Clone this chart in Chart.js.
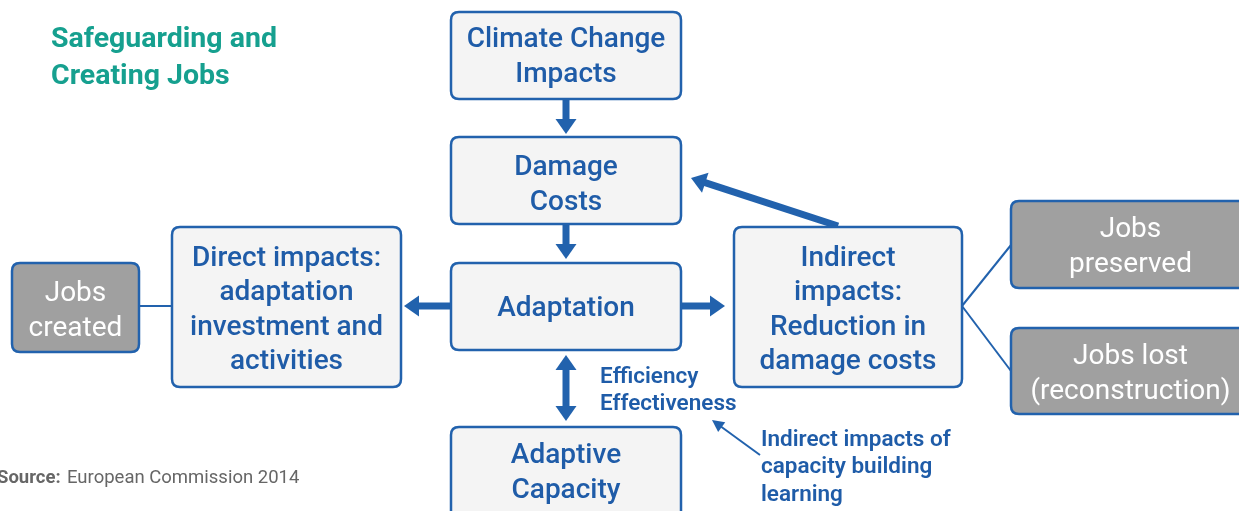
<!DOCTYPE html>
<html><head><meta charset="utf-8">
<script src="https://cdn.jsdelivr.net/npm/chart.js@4/dist/chart.umd.min.js"></script>
<style>html,body{margin:0;padding:0;background:#fff}#wrap{width:1239px;height:511px;position:relative}</style>
</head><body><div id="wrap"><canvas id="c"></canvas></div>
<script>
// Diagram nodes (coordinates in diagram units: x 0..1239, y 0..511 top-down)
const nodeLabels = [
  ["Climate Change","Impacts"],
  ["Damage","Costs"],
  ["Adaptation"],
  ["Adaptive","Capacity"],
  ["Direct impacts:","adaptation","investment and","activities"],
  ["Indirect","impacts:","Reduction in","damage costs"],
  ["Jobs","created"],
  ["Jobs","preserved"],
  ["Jobs lost","(reconstruction)"]
];
const nodeKinds = ["main","main","main","main","main","main","jobs","jobs","jobs"];
const nodeLeft   = [451,451,451,451,172,734,12,1011,1011];
const nodeTop    = [12,137,263,427,227,227,263,201,328];
const nodeRight  = [681,681,681,681,401,962,139,1250,1250];
const nodeBottom = [99,224,350,520,387,387,352,288,414];
const nodeTextMid = [55,183,306,471,308,308,309,245,372];
// Thick arrows: [x1,y1,x2,y2,doubleHeaded]
const thickArrows = [
  [566,99,566,134,0],
  [566,224,566,259,0],
  [451,306,404,306,0],
  [681,306,725,306,0],
  [566,355,566,421,1],
  [838,226,691,178,0]
];
// Thin connectors
const thinLines = [
  [139,306,172,306],
  [962,306,1011,245],
  [962,306,1011,371]
];
const thinArrow = [760,455,712,420];
const titleLines = ["Safeguarding and","Creating Jobs"];
const noteA = ["Efficiency","Effectiveness"];
const noteB = ["Indirect impacts of","capacity building","learning"];

const BLUE = "#2262ad", TEXTBLUE = "#1f5ca8", TEAL = "#16a08f";

function rr(ctx,x,y,w,h,r){ctx.beginPath();ctx.moveTo(x+r,y);ctx.lineTo(x+w-r,y);ctx.quadraticCurveTo(x+w,y,x+w,y+r);ctx.lineTo(x+w,y+h-r);ctx.quadraticCurveTo(x+w,y+h,x+w-r,y+h);ctx.lineTo(x+r,y+h);ctx.quadraticCurveTo(x,y+h,x,y+h-r);ctx.lineTo(x,y+r);ctx.quadraticCurveTo(x,y,x+r,y);ctx.closePath();}

function arrowHead(ctx,x1,y1,x2,y2,len,half){
  const a=Math.atan2(y2-y1,x2-x1);
  ctx.beginPath();
  ctx.moveTo(x2,y2);
  ctx.lineTo(x2-len*Math.cos(a)+half*Math.sin(a), y2-len*Math.sin(a)-half*Math.cos(a));
  ctx.lineTo(x2-len*Math.cos(a)-half*Math.sin(a), y2-len*Math.sin(a)+half*Math.cos(a));
  ctx.closePath();ctx.fill();
}

const diagram = {
  id:"diagram",
  afterDatasetsDraw(chart){
    const ctx=chart.ctx, xs=chart.scales.x, ys=chart.scales.y;
    const X=v=>xs.getPixelForValue(v), Y=v=>ys.getPixelForValue(v);
    ctx.save();
    // thin lines
    ctx.strokeStyle=BLUE;ctx.lineWidth=2;
    thinLines.forEach(l=>{ctx.beginPath();ctx.moveTo(X(l[0]),Y(l[1]));ctx.lineTo(X(l[2]),Y(l[3]));ctx.stroke();});
    // thin arrow
    {const [a,b,c,d]=thinArrow;ctx.fillStyle=BLUE;ctx.beginPath();ctx.moveTo(X(a),Y(b));
      const ang=Math.atan2(Y(d)-Y(b),X(c)-X(a));ctx.lineTo(X(c)-8*Math.cos(ang),Y(d)-8*Math.sin(ang));ctx.stroke();
      arrowHead(ctx,X(a),Y(b),X(c),Y(d),12,6);}
    // thick arrows
    ctx.fillStyle=BLUE;ctx.strokeStyle=BLUE;ctx.lineWidth=7;ctx.lineCap="butt";
    thickArrows.forEach(t=>{
      const x1=X(t[0]),y1=Y(t[1]),x2=X(t[2]),y2=Y(t[3]);
      const ang=Math.atan2(y2-y1,x2-x1),hl=15;
      const sx=t[4]?x1+hl*Math.cos(ang):x1, sy=t[4]?y1+hl*Math.sin(ang):y1;
      ctx.beginPath();ctx.moveTo(sx,sy);ctx.lineTo(x2-(hl-1)*Math.cos(ang),y2-(hl-1)*Math.sin(ang));ctx.stroke();
      arrowHead(ctx,x1,y1,x2,y2,hl,10.5);
      if(t[4]) arrowHead(ctx,x2,y2,x1,y1,hl,10.5);
    });
    // boxes
    nodeLabels.forEach((lines,i)=>{
      const x=X(nodeLeft[i]),y=Y(nodeTop[i]),w=X(nodeRight[i])-x,h=Y(nodeBottom[i])-y;
      const jobs=nodeKinds[i]==="jobs";
      rr(ctx,x,y,w,h,8);
      ctx.fillStyle=jobs?"#a0a0a0":"#f4f4f4";ctx.fill();
      ctx.lineWidth=2.5;ctx.strokeStyle=BLUE;ctx.stroke();
      ctx.fillStyle=jobs?"#ffffff":TEXTBLUE;
      ctx.font=(jobs?"400 ":"500 ")+"28px Roboto";
      ctx.textAlign="center";ctx.textBaseline="middle";
      const cx=x+w/2, lh=34.2, n=lines.length, midY=Y(nodeTextMid[i]);
      lines.forEach((s,k)=>ctx.fillText(s,cx,midY+(k-(n-1)/2)*lh+2.5));
    });
    // title
    ctx.textAlign="left";ctx.textBaseline="middle";
    ctx.fillStyle=TEAL;ctx.font="700 28.5px Roboto";
    titleLines.forEach((s,k)=>ctx.fillText(s,X(51),Y(40+k*36.5)));
    // notes
    ctx.fillStyle=TEXTBLUE;ctx.font="600 22.5px Roboto";
    noteA.forEach((s,k)=>ctx.fillText(s,X(600),Y(377+k*27.5)));
    noteB.forEach((s,k)=>ctx.fillText(s,X(761),Y(440+k*27.5)));
    // source
    ctx.fillStyle="#666666";ctx.font="700 18.5px Roboto";
    ctx.fillText("Source:",X(-3),Y(478));
    ctx.font="400 18.5px Roboto";ctx.fillText("European Commission 2014",X(67),Y(478));
    ctx.restore();
  }
};

new Chart(document.getElementById("c"),{
  type:"scatter",
  data:{datasets:[{data:nodeLabels.map((l,i)=>({x:(nodeLeft[i]+nodeRight[i])/2,y:(nodeTop[i]+nodeBottom[i])/2})),pointRadius:0}]},
  options:{
    responsive:true,maintainAspectRatio:false,animation:false,
    layout:{padding:0},
    plugins:{legend:{display:false},tooltip:{enabled:false}},
    scales:{
      x:{type:"linear",min:0,max:1239,display:false},
      y:{type:"linear",min:0,max:511,reverse:true,display:false}
    }
  },
  plugins:[diagram]
});
</script>
</body></html>
